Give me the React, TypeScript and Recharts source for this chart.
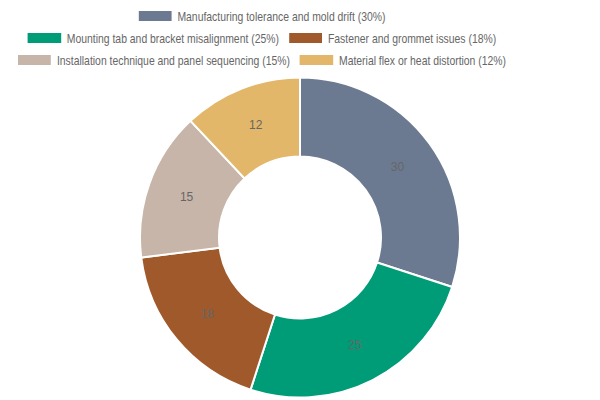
import { PieChart, Pie, Cell } from 'recharts';

const categories = [
  'Manufacturing tolerance and mold drift',
  'Mounting tab and bracket misalignment',
  'Fastener and grommet issues',
  'Installation technique and panel sequencing',
  'Material flex or heat distortion',
];
const shares = [30, 25, 18, 15, 12];
const colors = ['#6b7a91', '#009b77', '#a0592b', '#c6b5a8', '#e2b76a'];

// legend rows as in the reference (indexes into categories)
const legendRows = [[0], [1, 2], [3, 4]];

const data = categories.map((name, i) => ({ name, value: shares[i] }));

const RAD = Math.PI / 180;
const FONT = '"Liberation Sans", Arial, sans-serif';
// the reference legend uses a condensed face; squeeze the rows horizontally
const SQUEEZE = 0.8;

function SliceLabel(props: any) {
  const { cx, cy, midAngle, innerRadius, outerRadius, value } = props;
  const r = (innerRadius + outerRadius) / 2;
  const x = cx + r * Math.cos(-midAngle * RAD);
  const y = cy + r * Math.sin(-midAngle * RAD);
  return (
    <text x={x} y={y} fill="#666" fontSize={12} fontFamily={FONT} textAnchor="middle" dominantBaseline="central">
      {value}
    </text>
  );
}

export default function App() {
  return (
    <div style={{ position: 'absolute', left: 0, top: 0, width: 600, height: 400, background: '#fff', fontFamily: FONT }}>
      {legendRows.map((row, ri) => (
        <div
          key={ri}
          style={{
            position: 'absolute', left: 0, top: 5 + ri * 22, width: 524, height: 22,
            display: 'flex', justifyContent: 'center', alignItems: 'center', gap: 10 / SQUEEZE,
            transform: `scaleX(${SQUEEZE})`, transformOrigin: '262px 50%',
          }}
        >
          {row.map(i => (
            <div key={i} style={{ display: 'flex', alignItems: 'center', flexShrink: 0 }}>
              <span style={{ display: 'inline-block', width: 33 / SQUEEZE, height: 10, background: colors[i], marginRight: 6 / SQUEEZE }} />
              <span style={{ fontSize: 13, color: '#666', whiteSpace: 'nowrap' }}>
                {categories[i]} ({shares[i]}%)
              </span>
            </div>
          ))}
        </div>
      ))}
      <PieChart width={600} height={400} margin={{ top: 0, right: 0, bottom: 0, left: 0 }}>
        <Pie
          data={data}
          dataKey="value"
          nameKey="name"
          cx={300}
          cy={237.5}
          innerRadius={81}
          outerRadius={160}
          startAngle={90}
          endAngle={-270}
          stroke="#fff"
          strokeWidth={2}
          label={SliceLabel}
          labelLine={false}
          isAnimationActive={false}
        >
          {data.map((d, i) => (
            <Cell key={d.name} fill={colors[i]} />
          ))}
        </Pie>
      </PieChart>
    </div>
  );
}
